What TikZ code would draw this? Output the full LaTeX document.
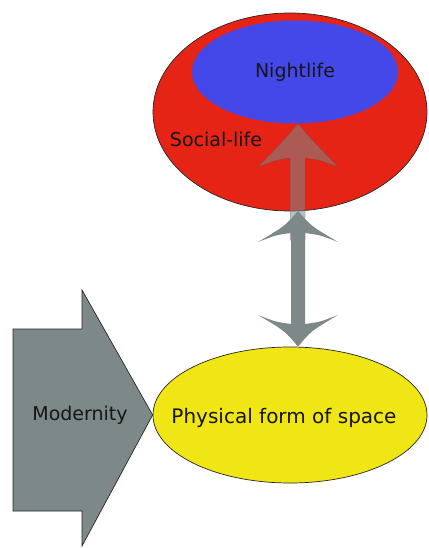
\documentclass[tikz,border=0pt]{standalone}
\usepackage{fontspec}
\setmainfont{DejaVu Sans}
\usetikzlibrary{shapes.geometric,calc}

\definecolor{socialred}{RGB}{230,36,22}
\definecolor{nightblue}{RGB}{68,72,232}
\definecolor{formyellow}{RGB}{240,230,22}
\definecolor{arrowgray}{RGB}{124,137,136}
\definecolor{inkdark}{RGB}{22,22,22}

\tikzset{
  label text/.style={font=\fontsize{19}{23}\selectfont, text=inkdark},
  blob/.style={ellipse, inner sep=0pt, label text},
  outline/.style={draw=black!85, line width=0.7pt},
}

\begin{document}
\begin{tikzpicture}[x=1pt,y=-1pt]
  \useasboundingbox (0,0) rectangle (428,548);
  \fill[white] (0,0) rectangle (428,548);

  % social life with nightlife inside it
  \node[blob, outline, fill=socialred, minimum width=274pt, minimum height=198pt] (social) at (290,112) {};
  \node[blob, fill=nightblue, minimum width=206pt, minimum height=103pt] (night) at (295,72) {Nightlife};
  \node[label text] (sociallabel) at (216,139) {Social-life};

  % physical form of space
  \node[blob, outline, fill=formyellow, minimum width=274pt, minimum height=136pt] (physical) at (290,415) {};
  \node[label text, font=\fontsize{20}{24}\selectfont] (physlabel) at (284,418) {Physical form of space};

  % modernity block arrow pushing into the physical form
  \draw[outline, fill=arrowgray] (13,329) -- (82,329) -- (82,290) -- (physical.west)
        -- (82,546) -- (82,511) -- (13,511) -- cycle;
  \node[label text] (modernity) at (80,415) {Modernity};

  % tips of the vertical arrows, on the shaft axis
  \coordinate (uptip) at ($(night.south)+(3,0)$);
  \coordinate (downtip) at ($(physical.north)+(8,0)$);

  % translucent upward arrow reaching into the nightlife
  \draw[fill=arrowgray, fill opacity=0.55, draw=black!70, draw opacity=0.35, line width=0.5pt]
    (uptip) .. controls (312,140) .. (338,167) .. controls (320,160) .. (305,158) -- (305,240)
    -- (290,240) -- (290,158) .. controls (276,160) .. (258,167) .. controls (284,140) .. (uptip) -- cycle;

  % two-way arrow between social life and physical form of space
  \fill[arrowgray]
    (298,211) .. controls (311,226) .. (338,242) .. controls (320,235) .. (305,233) -- (305,324)
    .. controls (320,322) .. (338,315) .. controls (311,331) .. (downtip)
    .. controls (285,331) .. (258,315) .. controls (276,322) .. (291,324) -- (291,233)
    .. controls (276,235) .. (258,242) .. controls (285,226) .. (298,211) -- cycle;
\end{tikzpicture}
\end{document}
